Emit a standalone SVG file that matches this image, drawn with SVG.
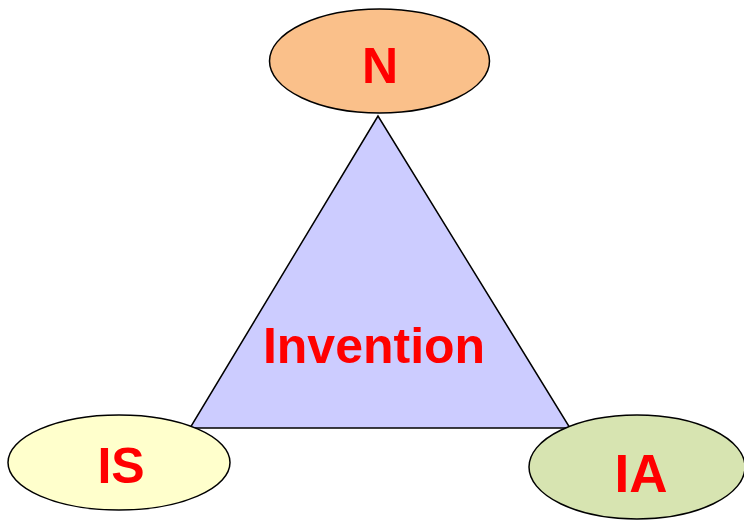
<svg xmlns="http://www.w3.org/2000/svg" width="744" height="521" viewBox="0 0 744 521">
<style>
.node{stroke:#000;stroke-width:1.5}
.lbl{font-family:"Liberation Sans",Arial,sans-serif;font-weight:bold;fill:#FF0000;text-anchor:middle;font-size:50px}
</style>
<rect width="744" height="521" fill="#fff"/>
<g id="connectors"></g>
<g id="invention">
<polygon class="node" points="378,116 190,428 570,428" fill="#CCCCFF"/>
<text class="lbl" x="374" y="363">Invention</text>
</g>
<g id="N">
<ellipse class="node" cx="379.5" cy="61" rx="110" ry="52" fill="#FAC08A"/>
<text class="lbl" x="380" y="83">N</text>
</g>
<g id="IS">
<ellipse class="node" cx="119" cy="462.5" rx="111" ry="47.5" fill="#FFFFCC"/>
<text class="lbl" x="121" y="483">IS</text>
</g>
<g id="IA">
<ellipse class="node" cx="637" cy="467" rx="108" ry="52" fill="#D7E4B1"/>
<text class="lbl" x="641" y="492" style="font-size:53px">IA</text>
</g>
</svg>
